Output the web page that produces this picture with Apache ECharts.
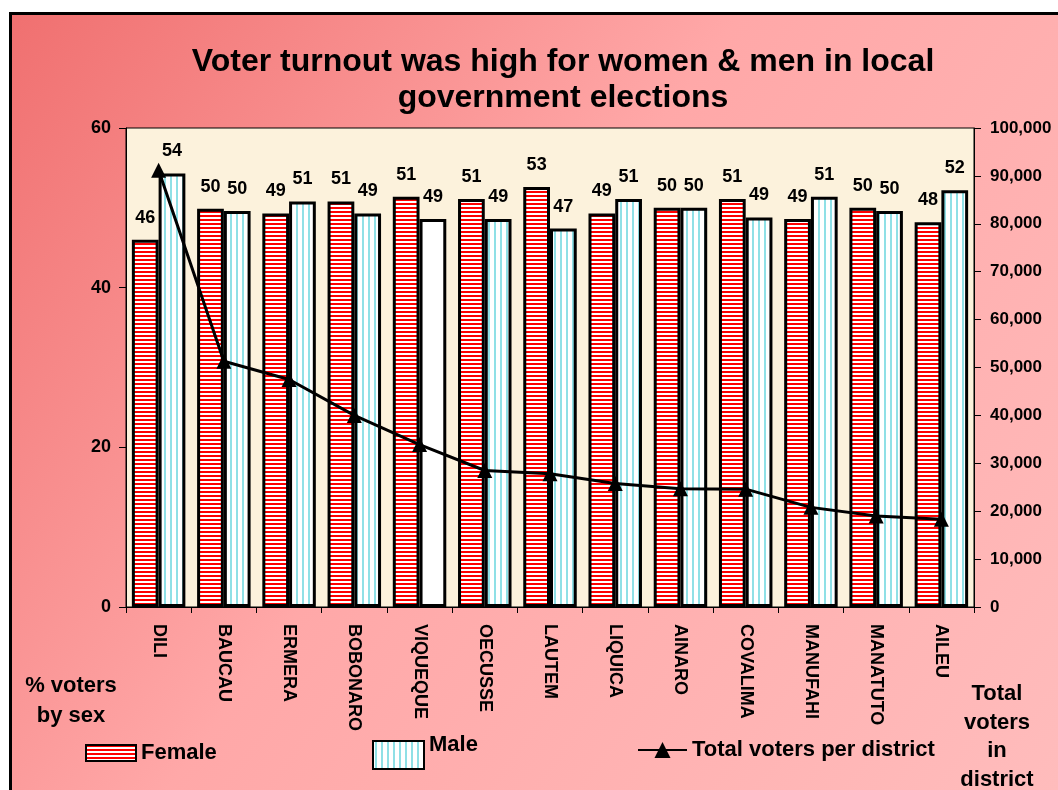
<!DOCTYPE html>
<html>
<head>
<meta charset="utf-8">
<script src="https://cdn.jsdelivr.net/npm/echarts@6/dist/echarts.min.js"></script>
<style>
html, body { margin: 0; padding: 0; background: #fff; overflow: hidden; }
#chart {
  position: absolute; left: 9px; top: 12px;
  width: 1046px; height: 775px;
  border-left: 3px solid #000; border-top: 3px solid #000;
}
</style>
</head>
<body>
<div id="chart"></div>
<script>
// districts, in chart order
const districts = ["DILI", "BAUCAU", "ERMERA", "BOBONARO", "VIQUEQUE", "OECUSSE", "LAUTEM",
  "LIQUICA", "AINARO", "COVALIMA", "MANUFAHI", "MANATUTO", "AILEU"];
// % voters by sex
const femalePct = [46.0, 49.9, 49.3, 50.8, 51.4, 51.1, 52.6, 49.3, 50.0, 51.1, 48.6, 50.0, 48.2];
const malePct = [54.3, 49.6, 50.8, 49.3, 48.6, 48.6, 47.4, 51.1, 50.0, 48.8, 51.4, 49.6, 52.2];
// total voters per district
const totalVoters = [91200, 51300, 47500, 40000, 33900, 28500, 27800, 25800, 24700, 24600, 20800, 19000, 18300];
// axis ranges
const pctMin = 0, pctMax = 60, pctStep = 20;
const votersMin = 0, votersMax = 100000, votersStep = 10000;

const FONT = "Liberation Sans, Arial, sans-serif";

// red with white horizontal lines
function stripeH() {
  const c = document.createElement("canvas");
  c.width = 4; c.height = 4;
  const g = c.getContext("2d");
  g.fillStyle = "#ffffff"; g.fillRect(0, 0, 4, 4);
  g.fillStyle = "#ff0000"; g.fillRect(0, 0, 4, 2);
  return c;
}
// white with cyan vertical lines
function stripeV() {
  const c = document.createElement("canvas");
  c.width = 6; c.height = 6;
  const g = c.getContext("2d");
  g.fillStyle = "#ffffff"; g.fillRect(0, 0, 6, 6);
  g.fillStyle = "#8fe0e6"; g.fillRect(2, 0, 2, 6);
  return c;
}

const chart = echarts.init(document.getElementById("chart"));

const barLabel = {
  show: true, position: "top", distance: 13,
  color: "#000", fontWeight: "bold", fontSize: 18, fontFamily: FONT,
  formatter: (p) => Math.round(p.value)
};

const legendText = { fontWeight: "bold", fontSize: 22, color: "#000", fontFamily: FONT };

chart.setOption({
  backgroundColor: {
    type: "linear", x: 0, y: 0, x2: 1, y2: 1,
    colorStops: [
      { offset: 0, color: "#f07070" },
      { offset: 0.45, color: "#ffa8a8" },
      { offset: 1, color: "#ffbcbc" }
    ]
  },
  textStyle: { fontFamily: FONT },
  graphic: [
    {
      type: "text", x: 551, y: 29,
      style: {
        text: "Voter turnout was high for women & men in local\ngovernment elections",
        align: "center", verticalAlign: "top",
        font: "bold 32px " + FONT, lineHeight: 36, fill: "#000"
      }
    },
    {
      type: "text", x: 59, y: 656,
      style: {
        text: "% voters\nby sex", align: "center", verticalAlign: "top",
        font: "bold 22px " + FONT, lineHeight: 30, fill: "#000"
      }
    },
    {
      type: "text", x: 985, y: 665,
      style: {
        text: "Total\nvoters\nin\ndistrict", align: "center", verticalAlign: "top",
        font: "bold 22px " + FONT, lineHeight: 28.5, fill: "#000"
      }
    }
  ],
  legend: [
    {
      data: [{ name: "Female", icon: "rect" }], left: 73, top: 727, padding: 0,
      itemWidth: 50, itemHeight: 16, itemGap: 0,
      textStyle: legendText
    },
    {
      data: [{ name: "Male", icon: "rect" }], left: 360, top: 719, padding: 0,
      itemWidth: 51, itemHeight: 28, itemGap: 0,
      formatter: (n) => "{t|" + n + "}",
      textStyle: Object.assign({}, legendText, {
        rich: { t: { fontWeight: "bold", fontSize: 22, color: "#000", fontFamily: FONT, padding: [0, 0, 20, 0] } }
      })
    },
    {
      data: ["Total voters per district"], left: 625, top: 724, padding: 0,
      itemWidth: 49, itemHeight: 20, itemGap: 0,
      textStyle: legendText
    }
  ],
  grid: {
    left: 114, top: 113, right: 84, bottom: 183,
    show: true, backgroundColor: "#fcf2dc", borderColor: "#000", borderWidth: 1
  },
  xAxis: {
    type: "category", data: districts,
    axisLine: { lineStyle: { color: "#000", width: 1 } },
    axisTick: { show: true, length: 6, lineStyle: { color: "#000" } },
    axisLabel: {
      rotate: -90, margin: 17, interval: 0,
      color: "#000", fontWeight: "bold", fontSize: 18, fontFamily: FONT
    }
  },
  yAxis: [
    {
      type: "value", min: pctMin, max: pctMax, interval: pctStep,
      axisLine: { show: true, lineStyle: { color: "#000" } },
      axisTick: { show: true, length: 7, lineStyle: { color: "#000" } },
      splitLine: { show: false },
      axisLabel: { margin: 15, color: "#000", fontWeight: "bold", fontSize: 18, fontFamily: FONT }
    },
    {
      type: "value", min: votersMin, max: votersMax, interval: votersStep,
      position: "right",
      axisLine: { show: true, lineStyle: { color: "#000" } },
      axisTick: { show: true, length: 7, lineStyle: { color: "#000" } },
      splitLine: { show: false },
      axisLabel: {
        margin: 16, color: "#000", fontWeight: "bold", fontSize: 17, fontFamily: FONT,
        formatter: (v) => v.toLocaleString("en-US")
      }
    }
  ],
  series: [
    {
      name: "Female", type: "bar", yAxisIndex: 0,
      data: femalePct,
      barGap: "0%", barCategoryGap: "18%",
      itemStyle: {
        color: { image: stripeH(), repeat: "repeat" },
        borderColor: "#000", borderWidth: 3
      },
      label: barLabel
    },
    {
      name: "Male", type: "bar", yAxisIndex: 0,
      // VIQUEQUE male bar is drawn plain white in the original
      data: malePct.map((v, i) => districts[i] === "VIQUEQUE"
        ? { value: v, itemStyle: { color: "#ffffff" } } : v),
      barGap: "0%", barCategoryGap: "18%",
      itemStyle: {
        color: { image: stripeV(), repeat: "repeat" },
        borderColor: "#000", borderWidth: 3
      },
      label: barLabel
    },
    {
      name: "Total voters per district", type: "line", yAxisIndex: 1,
      data: totalVoters, z: 5,
      symbol: "triangle", symbolSize: 15,
      lineStyle: { color: "#000", width: 3 },
      itemStyle: { color: "#000" }
    }
  ]
});
</script>
</body>
</html>
